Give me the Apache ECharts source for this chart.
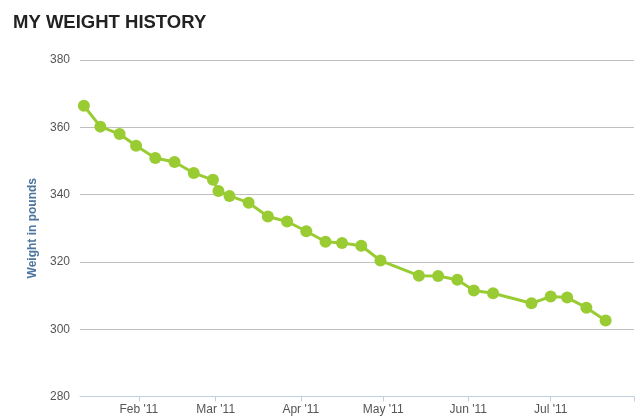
<!DOCTYPE html>
<html>
<head>
<meta charset="utf-8">
<script src="https://cdn.jsdelivr.net/npm/echarts@6/dist/echarts.min.js"></script>
<style>
html,body{margin:0;padding:0;background:#fff;}
#chart{width:640px;height:420px;}
</style>
</head>
<body>
<div id="chart"></div>
<script>
const dates = ['2011-01-12','2011-01-18','2011-01-25','2011-01-31','2011-02-07','2011-02-14','2011-02-21','2011-02-28','2011-03-02','2011-03-06','2011-03-13','2011-03-20','2011-03-27','2011-04-03','2011-04-10','2011-04-16','2011-04-23','2011-04-30','2011-05-14','2011-05-21','2011-05-28','2011-06-03','2011-06-10','2011-06-24','2011-07-01','2011-07-07','2011-07-14','2011-07-21'];
const weights = [366.4,360.2,358.0,354.5,350.9,349.7,346.4,344.4,341.1,339.6,337.6,333.5,332.0,329.1,326.0,325.6,324.8,320.4,315.9,315.8,314.7,311.5,310.7,307.7,309.7,309.4,306.4,302.6];
const monthTicks = ['2011-02-01','2011-03-01','2011-04-01','2011-05-01','2011-06-01','2011-07-01'];
const tickLabels = ["Feb '11","Mar '11","Apr '11","May '11","Jun '11","Jul '11"];
const xMin = '2011-01-10T14:00:00';
const xMax = '2011-07-31T08:00:00';

const toTs = s => new Date(s + (s.length === 10 ? 'T00:00:00' : '')).getTime();
const tickTs = monthTicks.map(toTs);
const chart = echarts.init(document.getElementById('chart'));
chart.setOption({
  animation: false,
  title: {
    text: 'MY WEIGHT HISTORY',
    left: 8, top: 8,
    textStyle: {fontFamily: 'Liberation Sans, Arial, sans-serif', fontWeight: 'bold', fontSize: 18.5, color: '#222'}
  },
  grid: {left: 80, right: 6, top: 60, bottom: 23.5},
  xAxis: {
    type: 'value',
    min: toTs(xMin), max: toTs(xMax),
    axisLine: {show: true, lineStyle: {color: '#C0D0E0', width: 1}},
    axisTick: {show: true, length: 5, lineStyle: {color: '#C0D0E0'}, customValues: tickTs.concat([toTs(xMax)])},
    splitLine: {show: false},
    axisLabel: {
      customValues: tickTs,
      margin: 7,
      color: '#555', fontSize: 12, fontFamily: 'Liberation Sans, Arial, sans-serif',
      formatter: v => { const i = tickTs.indexOf(v); return i >= 0 ? tickLabels[i] : ''; }
    }
  },
  yAxis: {
    type: 'value', min: 280, max: 380, interval: 20,
    name: 'Weight in pounds', nameLocation: 'middle', nameGap: 36, nameRotate: 90,
    nameTextStyle: {color: '#4d759e', fontWeight: 'bold', fontSize: 12, fontFamily: 'Liberation Sans, Arial, sans-serif'},
    axisLine: {show: false}, axisTick: {show: false},
    splitLine: {lineStyle: {color: '#C0C0C0', width: 1}},
    axisLabel: {margin: 10, color: '#555', fontSize: 12, fontFamily: 'Liberation Sans, Arial, sans-serif'}
  },
  series: [{
    type: 'line',
    data: dates.map((d, i) => [toTs(d), weights[i]]),
    symbol: 'circle', symbolSize: 12,
    lineStyle: {color: '#99CC33', width: 3},
    itemStyle: {color: '#99CC33'},
    clip: false
  }]
});
</script>
</body>
</html>
